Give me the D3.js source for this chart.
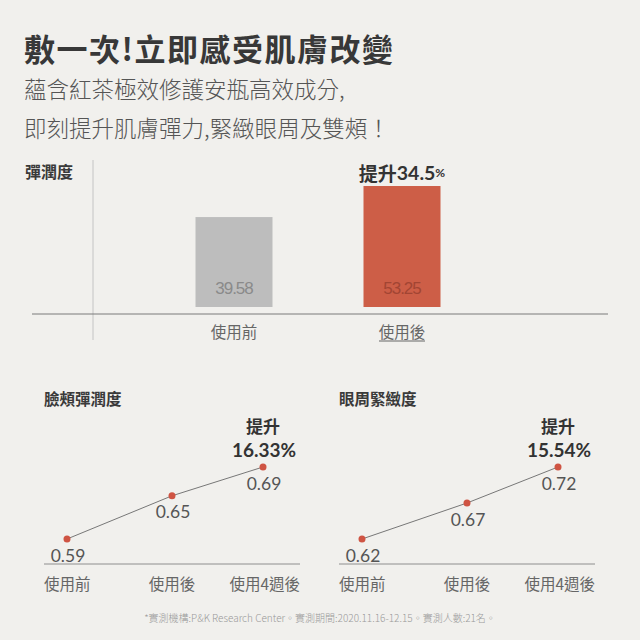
<!DOCTYPE html>
<html><head><meta charset="utf-8">
<script src="https://cdn.jsdelivr.net/npm/d3@7"></script>
<style>
html,body{margin:0;padding:0;background:#f1f0ed;}
svg{display:block;}
</style></head><body>
<script>
// ---- data ----
const title = "敷一次!立即感受肌膚改變";
const subtitle = ["蘊含紅茶極效修護安瓶高效成分,", "即刻提升肌膚彈力,緊緻眼周及雙頰！"];
const barTitle = "彈潤度";
const barCategories = ["使用前", "使用後"];
const barValues = [39.58, 53.25];
const barLabels = ["39.58", "53.25"];
const barGain = "34.5";
const lineCategories = ["使用前", "使用後", "使用4週後"];
const cheekTitle = "臉頰彈潤度";
const cheekValues = [0.59, 0.65, 0.69];
const cheekGain = "16.33%";
const eyeTitle = "眼周緊緻度";
const eyeValues = [0.62, 0.67, 0.72];
const eyeGain = "15.54%";
const footnote = "*實測機構:P&K Research Center。實測期間:2020.11.16-12.15。實測人數:21名。";

const CJK = "'Noto Sans CJK TC','Noto Sans',sans-serif";
const NUM = "Lato,'Noto Sans CJK TC',sans-serif";
const W = 640, H = 640;
const svg = d3.select("body").append("svg").attr("width", W).attr("height", H);
svg.append("rect").attr("width", W).attr("height", H).attr("fill", "#f1f0ed");

// ---- header ----
svg.append("text").attr("x", 24).attr("y", 47).attr("dominant-baseline", "central")
  .attr("font-family", CJK).attr("font-weight", 700).attr("font-size", 31)
  .attr("letter-spacing", 1.5).attr("fill", "#383838").text(title);
subtitle.forEach((s, i) => {
  svg.append("text").attr("x", 24).attr("y", 88 + i * 39).attr("dominant-baseline", "central")
    .attr("font-family", CJK).attr("font-weight", 300).attr("font-size", 22.5)
    .attr("fill", "#555").text(s);
});

// ---- bar chart ----
const barG = svg.append("g");
const xb = d3.scalePoint().domain(barCategories).range([234, 402]);
const yb = d3.scaleLinear().domain([0, 60]).range([307, 307 - 60 * 2.272]);
const bw = 77;
barG.append("line").attr("x1", 93).attr("x2", 93).attr("y1", 160).attr("y2", 340)
  .attr("stroke", "#c4c4c4").attr("stroke-width", 1);
barG.append("line").attr("x1", 32).attr("x2", 608).attr("y1", 314).attr("y2", 314)
  .attr("stroke", "#7a7a7a").attr("stroke-width", 1);
barG.append("text").attr("x", 25).attr("y", 171).attr("dominant-baseline", "central")
  .attr("font-family", CJK).attr("font-weight", 700).attr("font-size", 16).attr("fill", "#3a3a3a").text(barTitle);
const barFill = ["#bdbdbd", "#cd5e47"];
const barTxt = ["#8a8a8a", "#a24533"];
barG.selectAll("rect.bar").data(barValues).join("rect").attr("class", "bar")
  .attr("x", (d, i) => xb(barCategories[i]) - bw / 2).attr("width", bw)
  .attr("y", d => yb(d)).attr("height", d => yb(0) - yb(d))
  .attr("fill", (d, i) => barFill[i]);
barG.selectAll("text.bv").data(barLabels).join("text").attr("class", "bv")
  .attr("x", (d, i) => xb(barCategories[i])).attr("y", 288).attr("text-anchor", "middle")
  .attr("dominant-baseline", "central").attr("font-family", "'Liberation Sans',sans-serif")
  .attr("font-weight", 300).attr("font-size", 17).attr("letter-spacing", -1)
  .attr("fill", (d, i) => barTxt[i]).text(d => d);
barG.selectAll("text.bc").data(barCategories).join("text").attr("class", "bc")
  .attr("x", d => xb(d)).attr("y", 331).attr("text-anchor", "middle").attr("dominant-baseline", "central")
  .attr("font-family", CJK).attr("font-size", 15.5).attr("fill", "#666").text(d => d);
barG.append("line").attr("x1", xb(barCategories[1]) - 23).attr("x2", xb(barCategories[1]) + 23)
  .attr("y1", 341).attr("y2", 341).attr("stroke", "#666").attr("stroke-width", 1);
const gainT = barG.append("text").attr("x", xb(barCategories[1])).attr("y", 172)
  .attr("text-anchor", "middle").attr("dominant-baseline", "central")
  .attr("font-family", CJK).attr("font-weight", 700).attr("font-size", 19).attr("fill", "#333");
gainT.append("tspan").text("提升");
gainT.append("tspan").attr("font-family", NUM).attr("font-size", 19.5).text(barGain);
gainT.append("tspan").attr("font-family", NUM).attr("font-size", 12).text("%");

// ---- line charts ----
function lineChart(x0, name, values, gain) {
  const g = svg.append("g").attr("transform", `translate(${x0},0)`);
  const left = 0, right = 256;
  const xs = d3.scaleOrdinal().domain(lineCategories).range([23, 128, 219]);
  const ys = d3.scaleLinear().domain([values[0], values[2]]).range([539, 467]);
  g.append("text").attr("x", left).attr("y", 398).attr("dominant-baseline", "central")
    .attr("font-family", CJK).attr("font-weight", 700).attr("font-size", 15.5).attr("fill", "#3a3a3a").text(name);
  g.append("line").attr("x1", left).attr("x2", right).attr("y1", 564).attr("y2", 564)
    .attr("stroke", "#8e8e8e").attr("stroke-width", 1);
  const pts = values.map((v, i) => [xs(lineCategories[i]), ys(v)]);
  g.append("path").attr("d", d3.line()(pts)).attr("fill", "none").attr("stroke", "#777").attr("stroke-width", 1);
  g.selectAll("circle").data(pts).join("circle").attr("cx", d => d[0]).attr("cy", d => d[1])
    .attr("r", 3.5).attr("fill", "#cf5443");
  g.selectAll("text.v").data(values).join("text").attr("class", "v")
    .attr("x", (d, i) => pts[i][0] + 1).attr("y", (d, i) => pts[i][1] + 16)
    .attr("text-anchor", "middle").attr("dominant-baseline", "central")
    .attr("font-family", NUM).attr("font-size", 17.5).attr("fill", "#555").text(d => d.toFixed(2));
  const anchors = ["start", "middle", "end"];
  const lx = [left, xs(lineCategories[1]), right];
  g.selectAll("text.c").data(lineCategories).join("text").attr("class", "c")
    .attr("x", (d, i) => lx[i]).attr("y", 583).attr("text-anchor", (d, i) => anchors[i])
    .attr("dominant-baseline", "central").attr("font-family", CJK).attr("font-size", 15.5)
    .attr("fill", "#666").text(d => d);
  const px = pts[2][0];
  g.append("text").attr("x", px).attr("y", 425).attr("text-anchor", "middle").attr("dominant-baseline", "central")
    .attr("font-family", CJK).attr("font-weight", 700).attr("font-size", 17).attr("fill", "#333").text("提升");
  g.append("text").attr("x", px + 1).attr("y", 449).attr("text-anchor", "middle").attr("dominant-baseline", "central")
    .attr("font-family", NUM).attr("font-weight", 700).attr("font-size", 19).attr("fill", "#333").text(gain);
}
lineChart(44, cheekTitle, cheekValues, cheekGain);
lineChart(339, eyeTitle, eyeValues, eyeGain);

// ---- footnote ----
svg.append("text").attr("x", 320).attr("y", 617).attr("text-anchor", "middle").attr("dominant-baseline", "central")
  .attr("font-family", CJK).attr("font-size", 10).attr("font-weight", 300).attr("fill", "#9a9a9a").text(footnote);
</script>
</body></html>
